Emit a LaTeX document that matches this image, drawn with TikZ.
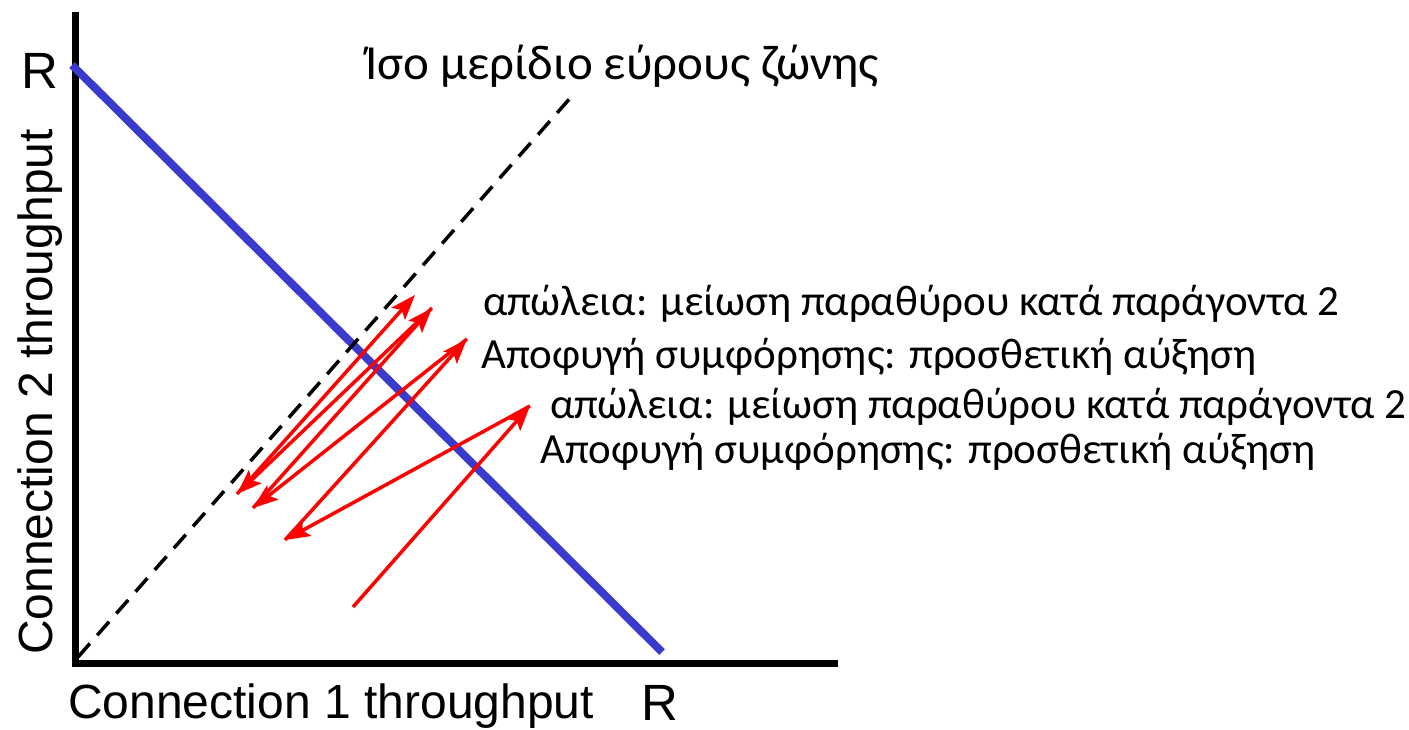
\documentclass[tikz,border=0pt]{standalone}
\usepackage{fontspec}
\setmainfont{Liberation Sans}
\newfontfamily\greekfont{Carlito}
\usetikzlibrary{arrows.meta,positioning}

\definecolor{fairblue}{RGB}{58,58,204}

\begin{document}
\begin{tikzpicture}[x=1pt, y=-1pt, >={Stealth[length=25pt,width=18pt,inset=5pt]},
  axis/.style={line width=7pt},
  lbl/.style={font=\fontsize{48}{52}\selectfont, inner sep=0pt},
  rlbl/.style={font=\fontsize{51}{54}\selectfont, inner sep=0pt, anchor=base west},
  note/.style={font=\greekfont\fontsize{43}{48}\selectfont, inner sep=0pt, anchor=base west},
  aimd/.style={->, red, line width=3.5pt}]
\useasboundingbox (0,0) rectangle (1409,729);

% axes
\coordinate (o) at (75,659);
\coordinate (ytop) at (75,12);
\coordinate (xend) at (838,659);
\draw[axis] (ytop) -- (o |- 0,663) -- (xend |- 0,663);

% full utilisation and equal share lines
\coordinate (r2) at (72,65);
\coordinate (r1) at (662,652);
\draw[fairblue, line width=8pt] (r2) -- (r1);
\coordinate (eqstart) at (78,657);
\coordinate (eqend) at (572,96);
\draw[line width=3.5pt, dash pattern=on 18pt off 11pt] (eqstart) -- (eqend);

% axis labels
\node[lbl, anchor=base west] (xlbl) at (68,718) {Connection 1 throughput};
\node[lbl, rotate=90, anchor=base] (ylbl) at (52,392) {Connection 2 throughput};
\node[rlbl] (rx) at (641,720) {R};
\node[rlbl] (ry) at (21,88) {R};
\node[note, font=\greekfont\fontsize{49}{52}\selectfont] (eq) at (365,79) {Ίσο μερίδιο εύρους ζώνης};

% sawtooth path
\coordinate (p0) at (353,607);
\coordinate (p1) at (530,406);
\coordinate (p2) at (285,540);
\coordinate (p3) at (467,339);
\coordinate (p4) at (253,508);
\coordinate (p5) at (432,308);
\coordinate (p6) at (237,494);
\coordinate (p7) at (415,295);
\foreach \a/\b in {p0/p1,p1/p2,p2/p3,p3/p4,p4/p5,p5/p6,p6/p7}
  \draw[aimd] (\a) -- (\b);

% notes
\node[note] (loss1) at (483,315) {απώλεια: μείωση παραθύρου κατά παράγοντα 2};
\node[note] (ca1) at (481,368) {Αποφυγή συμφόρησης: προσθετική αύξηση};
\node[note] (loss2) at (550,418) {απώλεια: μείωση παραθύρου κατά παράγοντα 2};
\node[note] (ca2) at (540,463) {Αποφυγή συμφόρησης: προσθετική αύξηση};
\end{tikzpicture}
\end{document}
